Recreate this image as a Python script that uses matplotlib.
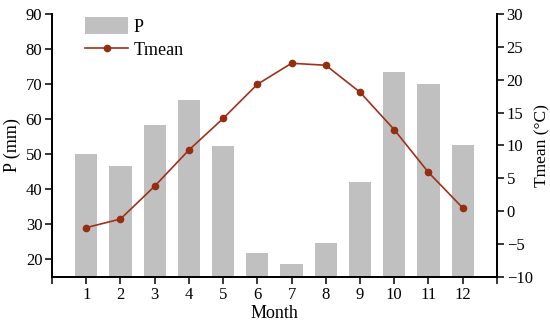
import matplotlib.pyplot as plt

plt.rcParams['font.family'] = ['Liberation Serif', 'DejaVu Serif']

months = list(range(1, 13))
precip = [50.2, 46.6, 58.4, 65.5, 52.3, 21.8, 18.8, 24.6, 42.0, 73.4, 70.1, 52.5]
tmean = [-2.5, -1.2, 3.8, 9.3, 14.1, 19.3, 22.5, 22.2, 18.1, 12.4, 5.9, 0.5]

fig = plt.figure(figsize=(5.5, 3.25), dpi=100)
ax = fig.add_axes([0.0945, 0.148, 0.809, 0.809])
ax2 = ax.twinx()

bars = ax.bar(months, [p - 15 for p in precip], bottom=15, width=0.65,
              color='#c0c0c0', label='P', zorder=1)
line, = ax2.plot(months, tmean, color='#a0301a', lw=1.2, marker='o',
                 ms=4.5, mfc='#952d10', mec='#952d10', label='Tmean')

ax.set_xlim(0, 13)
ax.set_ylim(15, 90)
ax2.set_ylim(-10, 30)
ax.set_xticks(range(0, 14))
ax.set_xticklabels([''] + [str(m) for m in months] + [''])
ax.set_yticks(range(20, 91, 10))
ax2.set_yticks(range(-10, 31, 5))

for a in (ax, ax2):
    a.spines['top'].set_visible(False)
    a.tick_params(direction='out', length=5, width=1.1, labelsize=12, pad=2)
    for s in a.spines.values():
        s.set_linewidth(1.3)

ax.set_xlabel('Month', fontsize=13, labelpad=2)
ax.set_ylabel('P (mm)', fontsize=13, labelpad=3)
ax2.set_ylabel('Tmean (\u00b0C)', fontsize=12.5, labelpad=1)

ax.legend([bars, line], ['P', 'Tmean'], loc='upper left',
          bbox_to_anchor=(0.05, 1.03), frameon=False, fontsize=13,
          handlelength=2.4, handleheight=1.1, borderaxespad=0.2,
          labelspacing=0.25, handletextpad=0.3)

fig.savefig('out.png', dpi=100)
